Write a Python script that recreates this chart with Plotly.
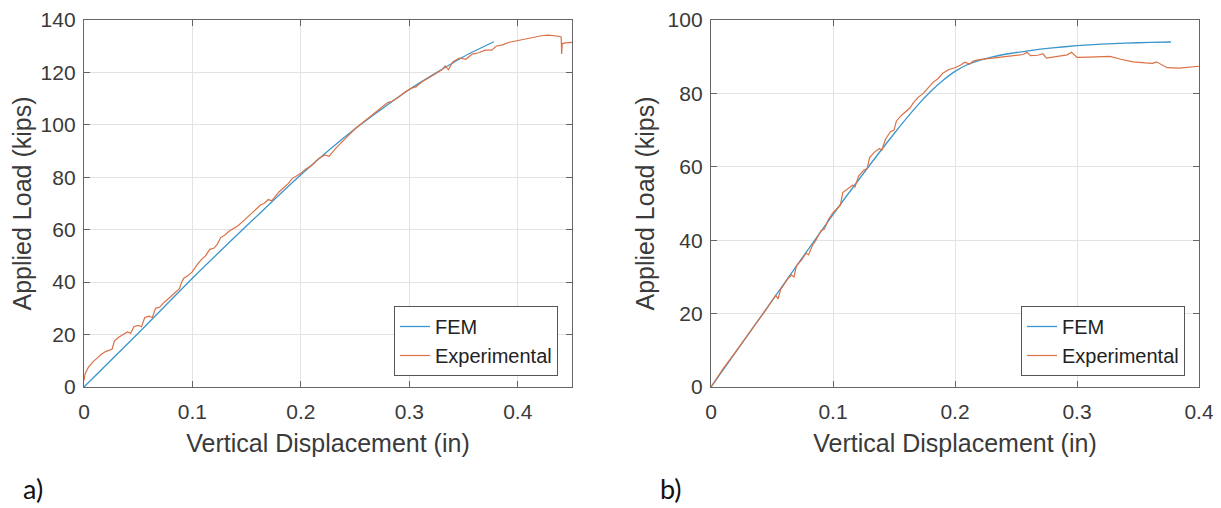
import plotly.graph_objects as go

# ---------------- data: panel a) ----------------
fem_a_x = [0, 0.05, 0.1, 0.15, 0.2, 0.25, 0.3, 0.35, 0.378]
fem_a_y = [0, 20.5, 41.5, 61.5, 81, 98.5, 113.5, 126, 131.7]

exp_a_x = [0.000, 0.001, 0.004, 0.008, 0.012, 0.016, 0.020, 0.024, 0.026, 0.028,
           0.032, 0.036, 0.040, 0.043, 0.046, 0.050, 0.053, 0.056, 0.060, 0.063,
           0.066, 0.070, 0.073, 0.076, 0.080, 0.084, 0.088, 0.090, 0.092, 0.096,
           0.100, 0.104, 0.108, 0.112, 0.116, 0.120, 0.123, 0.126, 0.130, 0.134,
           0.138, 0.142, 0.146, 0.150, 0.155, 0.160, 0.163, 0.166, 0.170, 0.173,
           0.176, 0.180, 0.184, 0.188, 0.192, 0.196, 0.200, 0.204, 0.210, 0.216,
           0.222, 0.226, 0.232, 0.238, 0.244, 0.250, 0.256, 0.262, 0.268, 0.274,
           0.280, 0.284, 0.290, 0.296, 0.302, 0.306, 0.312, 0.318, 0.324, 0.330,
           0.333, 0.336, 0.340, 0.346, 0.352, 0.358, 0.364, 0.370, 0.376, 0.380,
           0.386, 0.392, 0.398, 0.404, 0.410, 0.416, 0.422, 0.428, 0.434, 0.438,
           0.440, 0.4405, 0.441, 0.444, 0.450]
exp_a_y = [2.5, 5, 7.5, 9.5, 11, 12.5, 13.5, 14, 14.5, 17.5,
           19, 20, 21, 20.5, 23, 23.5, 23, 26.5, 27, 26.5,
           30, 30.5, 32, 33, 34.5, 36, 37.5, 40, 41.5, 42.5,
           44, 46.5, 48.5, 50, 52.5, 53, 54.5, 57, 58, 59.5,
           60.5, 61.5, 63, 64.5, 66.5, 68, 69.5, 70, 71.5, 71,
           72.5, 74.5, 76, 77.5, 79.5, 80.5, 81.5, 83, 84.5, 87,
           88.5, 88, 91, 93.5, 96, 98.5, 100.5, 102.5, 104.5, 106.5,
           108.5, 109, 110.5, 112.5, 114, 114.5, 116.5, 118, 119.5, 121,
           122.5, 121, 124, 125.5, 125, 127, 127.5, 128.5, 128.5, 130,
           130.5, 131.5, 132, 132.5, 133, 133.5, 134, 134.2, 134, 133.8,
           133.5, 127, 131, 131.3, 131.5]

# ---------------- data: panel b) ----------------
fem_b_x = [0, 0.05, 0.1, 0.15, 0.17, 0.18, 0.19, 0.2, 0.21, 0.22, 0.23, 0.24,
           0.26, 0.28, 0.3, 0.32, 0.34, 0.36, 0.377]
fem_b_y = [0, 23.5, 47, 69, 77, 80.5, 83.5, 86, 87.8, 89, 89.9, 90.6,
           91.6, 92.4, 93, 93.4, 93.7, 93.9, 94.0]

exp_b_x = [0, 0.005, 0.01, 0.02, 0.03, 0.04, 0.045, 0.05, 0.053, 0.055,
           0.057, 0.06, 0.063, 0.066, 0.068, 0.070, 0.074, 0.078, 0.080, 0.083,
           0.086, 0.090, 0.093, 0.096, 0.100, 0.103, 0.106, 0.108, 0.112, 0.116,
           0.118, 0.121, 0.125, 0.128, 0.130, 0.134, 0.138, 0.140, 0.143, 0.147,
           0.150, 0.152, 0.156, 0.160, 0.163, 0.166, 0.170, 0.174, 0.178, 0.182,
           0.186, 0.190, 0.195, 0.200, 0.205, 0.208, 0.212, 0.215, 0.220, 0.228,
           0.236, 0.242, 0.250, 0.256, 0.259, 0.262, 0.268, 0.272, 0.275, 0.284,
           0.292, 0.2955, 0.300, 0.310, 0.320, 0.327, 0.336, 0.346, 0.356, 0.362,
           0.365, 0.370, 0.374, 0.384, 0.392, 0.400]
exp_b_y = [0, 2.5, 5, 9.5, 14, 18.5, 21, 23.5, 25, 24,
           26.5, 28, 29.5, 30.5, 30, 33, 34.5, 36.5, 36, 38.5,
           40, 42.5, 43, 45.5, 47.5, 48.5, 49.5, 53, 54, 55,
           54.5, 57.5, 59, 59.5, 62.5, 64, 65, 64.5, 67.5, 69.5,
           70, 72.5, 74, 75, 76, 77.5, 79, 80, 81.5, 83,
           84, 85.5, 86.5, 87, 87.8, 88.5, 88, 88.8, 89.2, 89.5,
           90, 90.2, 90.5, 90.6, 91.2, 90.3, 90.4, 90.8, 89.6, 90.0,
           90.5, 91.2, 89.8, 89.9, 89.9, 90.1, 89.3, 88.6, 88.3, 88.2,
           88.6, 87.8, 87.0, 86.9, 87.2, 87.4]

x_ticks = [0, 0.1, 0.2, 0.3, 0.4]
x_tick_text = ["0", "0.1", "0.2", "0.3", "0.4"]
y_ticks_a = [0, 20, 40, 60, 80, 100, 120, 140]
y_ticks_b = [0, 20, 40, 60, 80, 100]

FEM_COLOR = "#3a96cc"
EXP_COLOR = "#dc7045"
FONT = "Liberation Sans, Arial, sans-serif"

# The page body has an 8px margin: the figure is shifted by OFF px in the window.
OFF = 8
W, H = 1213, 500


def px(x):
    return (x - OFF) / W


def py(y):
    return (H - (y - OFF)) / H


fig = go.Figure()
fig.add_trace(go.Scatter(x=fem_a_x, y=fem_a_y, mode="lines", name="FEM",
                         line=dict(color=FEM_COLOR, width=1.3, shape="spline", smoothing=0.6),
                         xaxis="x", yaxis="y", legend="legend"))
fig.add_trace(go.Scatter(x=exp_a_x, y=exp_a_y, mode="lines", name="Experimental",
                         line=dict(color=EXP_COLOR, width=1.2),
                         xaxis="x", yaxis="y", legend="legend"))
fig.add_trace(go.Scatter(x=fem_b_x, y=fem_b_y, mode="lines", name="FEM",
                         line=dict(color=FEM_COLOR, width=1.3, shape="spline", smoothing=0.6),
                         xaxis="x2", yaxis="y2", legend="legend2"))
fig.add_trace(go.Scatter(x=exp_b_x, y=exp_b_y, mode="lines", name="Experimental",
                         line=dict(color=EXP_COLOR, width=1.2),
                         xaxis="x2", yaxis="y2", legend="legend2"))

ydom = [py(387), py(20)]

axis_common = dict(
    showline=True, mirror="ticks", linecolor="#666666", linewidth=1.3,
    ticks="inside", ticklen=6, tickcolor="#666666", tickwidth=1,
    showgrid=True, gridcolor="#e3e3e3", gridwidth=1, zeroline=False,
    automargin=False,
    tickfont=dict(family=FONT, size=21, color="#3a3a3a"),
)
title_font = dict(family=FONT, size=25, color="#3a3a3a")

xaxis_common = dict(axis_common, ticklabelstandoff=6, tickvals=x_ticks, ticktext=x_tick_text)
yaxis_common = dict(axis_common, ticklabelstandoff=3)

fig.update_layout(
    width=W, height=H, autosize=False,
    margin=dict(l=0, r=0, t=0, b=0),
    paper_bgcolor="white", plot_bgcolor="white",
    font=dict(family=FONT, color="#3a3a3a"),
    xaxis=dict(xaxis_common, domain=[px(84), px(572)], range=[0, 0.45], anchor="y",
               title=dict(text="Vertical Displacement (in)", font=title_font, standoff=12)),
    yaxis=dict(yaxis_common, domain=ydom, range=[0, 140], tickvals=y_ticks_a, anchor="x",
               title=dict(text="Applied Load (kips)", font=title_font, standoff=5)),
    xaxis2=dict(xaxis_common, domain=[px(711), px(1199)], range=[0, 0.4], anchor="y2",
                title=dict(text="Vertical Displacement (in)", font=title_font, standoff=12)),
    yaxis2=dict(yaxis_common, domain=ydom, range=[0, 100], tickvals=y_ticks_b, anchor="x2",
                title=dict(text="Applied Load (kips)", font=title_font, standoff=5)),
    legend=dict(x=px(558), y=py(376), xanchor="right", yanchor="bottom",
                bgcolor="white", bordercolor="#555555", borderwidth=1,
                font=dict(family=FONT, size=20, color="#222222"),
                tracegroupgap=0),
    legend2=dict(x=px(1185), y=py(376), xanchor="right", yanchor="bottom",
                 bgcolor="white", bordercolor="#555555", borderwidth=1,
                 font=dict(family=FONT, size=20, color="#222222"),
                 tracegroupgap=0),
    showlegend=True,
)

fig.add_annotation(text="a)", xref="paper", yref="paper", x=px(21), y=py(488),
                   xanchor="left", yanchor="middle", showarrow=False,
                   font=dict(family="Lato, Carlito, sans-serif", size=27, color="#111111"))
fig.add_annotation(text="b)", xref="paper", yref="paper", x=px(658), y=py(488),
                   xanchor="left", yanchor="middle", showarrow=False,
                   font=dict(family="Lato, Carlito, sans-serif", size=27, color="#111111"))

fig.write_html("out.html")
